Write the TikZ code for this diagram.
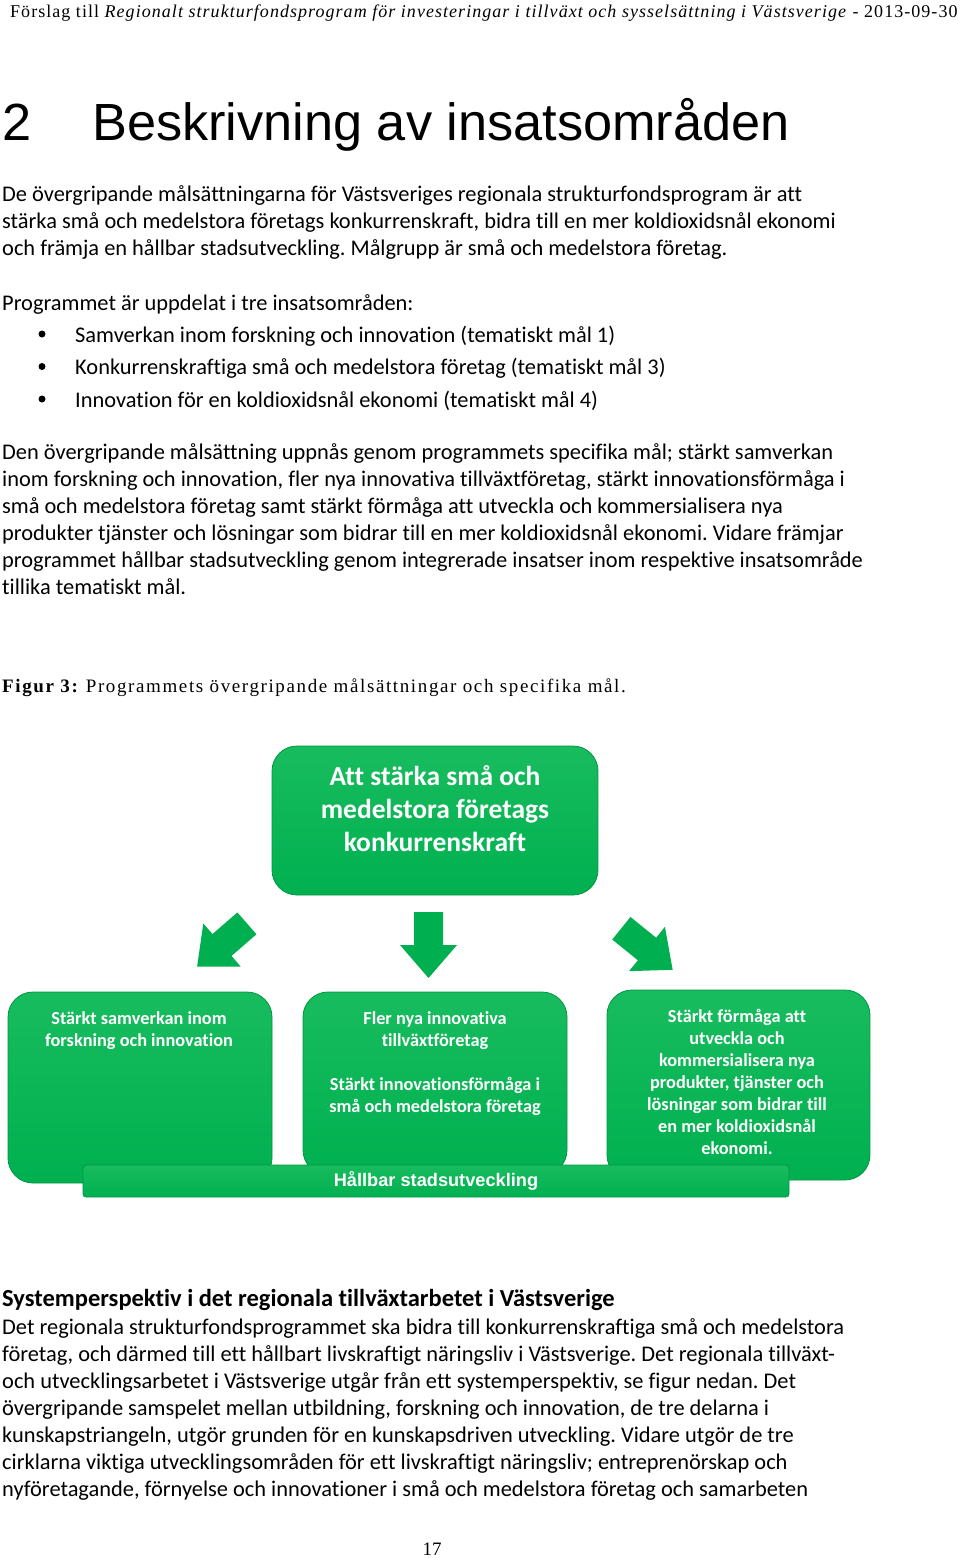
\documentclass[tikz,border=0pt]{standalone}
\usepackage{fontspec}
\setmainfont{Carlito}[Ligatures=NoCommon]
\newfontfamily\arialfont{Liberation Sans}
\newfontfamily\headerfont{Liberation Serif}[LetterSpace=5.8]
\newfontfamily\captionfont{Liberation Serif}[LetterSpace=8.5]
\newfontfamily\timesfont{Liberation Serif}
\usetikzlibrary{positioning}
\definecolor{goalgreen}{RGB}{0,176,80}
\definecolor{goaltop}{RGB}{24,188,94}
\definecolor{goaledge}{RGB}{0,150,68}
\frenchspacing
\begin{document}
\begin{tikzpicture}[x=1pt,y=-1pt,
    bodytext/.style={anchor=base west,inner sep=0,font=\fontsize{22.4}{27}\selectfont},
    dot/.style={circle,fill=black,inner sep=0,minimum size=7},
    gbox/.style={rounded corners=25,top color=goaltop,bottom color=goalgreen,draw=goaledge,line width=0.8},
    boxtext/.style={anchor=north,inner sep=0,align=center,text=white,font=\bfseries\fontsize{18.3}{22}\selectfont},
    blockarrow/.pic={\fill[goalgreen] (-14.5,-33) -- (14.5,-33) -- (14.5,0) -- (28.5,0)
        -- (0,33) -- (-28.5,0) -- (-14.5,0) -- cycle;}]
\useasboundingbox (0,0) rectangle (960,1558);
% header and title
\node[anchor=base west,inner sep=0] (header) at (10,17)
    {\headerfont\fontsize{18}{20}\selectfont Förslag till \textit{Regionalt strukturfondsprogram för investeringar i tillväxt och sysselsättning i Västsverige} - 2013-09-30};
\node[anchor=base west,inner sep=0,font=\arialfont\fontsize{52.3}{60}\selectfont] (secnum) at (2,140) {2};
\node[anchor=base west,inner sep=0,font=\arialfont\fontsize{52.3}{60}\selectfont] (title) at (92,140) {Beskrivning av insatsområden};
% introduction
\foreach \txt [count=\i from 0] in {
    {De övergripande målsättningarna för Västsveriges regionala strukturfondsprogram är att},
    {stärka små och medelstora företags konkurrenskraft, bidra till en mer koldioxidsnål ekonomi},
    {och främja en hållbar stadsutveckling. Målgrupp är små och medelstora företag.}}
  \node[bodytext] (intro\i) at (2,201+27*\i) {\txt};
\node[bodytext] (areas) at (2,310) {Programmet är uppdelat i tre insatsområden:};
\foreach \txt [count=\i from 0] in {
    {Samverkan inom forskning och innovation (tematiskt mål 1)},
    {Konkurrenskraftiga små och medelstora företag (tematiskt mål 3)},
    {Innovation för en koldioxidsnål ekonomi (tematiskt mål 4)}}{
  \node[dot] (dot\i) at (42,334+32.5*\i) {};
  \node[bodytext] (area\i) at (75,342+32.5*\i) {\txt};
}
\foreach \txt [count=\i from 0] in {
    {Den övergripande målsättning uppnås genom programmets specifika mål; stärkt samverkan},
    {inom forskning och innovation, fler nya innovativa tillväxtföretag, stärkt innovationsförmåga i},
    {små och medelstora företag samt stärkt förmåga att utveckla och kommersialisera nya},
    {produkter tjänster och lösningar som bidrar till en mer koldioxidsnål ekonomi. Vidare främjar},
    {programmet hållbar stadsutveckling genom integrerade insatser inom respektive insatsområde},
    {tillika tematiskt mål.}}
  \node[bodytext] (aim\i) at (2,459+27*\i) {\txt};
\node[anchor=base west,inner sep=0] (caption) at (2,692)
    {\captionfont\fontsize{19}{22}\selectfont\textbf{Figur 3:} Programmets övergripande målsättningar och specifika mål.};
% figure
\node[gbox,minimum width=326,minimum height=149] (goal) at (435,820.5) {};
\node[boxtext,font=\bfseries\fontsize{27.5}{33}\selectfont] (goaltext) at (435,765)
    {Att stärka små och\\medelstora företags\\konkurrenskraft};
\pic[rotate=-49] at (222,945) {blockarrow};
\pic at (428.5,945) {blockarrow};
\pic[rotate=51] at (647,949) {blockarrow};
\node[gbox,minimum width=264,minimum height=191] (coop) at (140,1087.5) {};
\node[gbox,minimum width=264,minimum height=183] (growth) at (435,1083.5) {};
\node[gbox,minimum width=263,minimum height=190] (climate) at (738.5,1085) {};
\node[boxtext] (cooptext) at (139,1011) {Stärkt samverkan inom\\forskning och innovation};
\node[boxtext] (growthtext) at (435,1011)
    {Fler nya innovativa\\tillväxtföretag\\[22pt]Stärkt innovationsförmåga i\\små och medelstora företag};
\node[boxtext] (climatetext) at (737,1009)
    {Stärkt förmåga att\\utveckla och\\kommersialisera nya\\produkter, tjänster och\\lösningar som bidrar till\\en mer koldioxidsnål\\ekonomi.};
\node[rounded corners=3,top color=goaltop,bottom color=goalgreen,draw=goaledge,line width=0.8,
    minimum width=706,minimum height=32,text=white,font=\arialfont\bfseries\fontsize{18.2}{22}\selectfont]
    (city) at (436,1181) {Hållbar stadsutveckling};
% system perspective
\node[bodytext,font=\bfseries\fontsize{24.5}{27}\selectfont] (sysheading) at (2,1306)
    {Systemperspektiv i det regionala tillväxtarbetet i Västsverige};
\foreach \txt [count=\i from 0] in {
    {Det regionala strukturfondsprogrammet ska bidra till konkurrenskraftiga små och medelstora},
    {företag, och därmed till ett hållbart livskraftigt näringsliv i Västsverige. Det regionala tillväxt-},
    {och utvecklingsarbetet i Västsverige utgår från ett systemperspektiv, se figur nedan. Det},
    {övergripande samspelet mellan utbildning, forskning och innovation, de tre delarna i},
    {kunskapstriangeln, utgör grunden för en kunskapsdriven utveckling. Vidare utgör de tre},
    {cirklarna viktiga utvecklingsområden för ett livskraftigt näringsliv; entreprenörskap och},
    {nyföretagande, förnyelse och innovationer i små och medelstora företag och samarbeten}}
  \node[bodytext] (sys\i) at (2,1334+27*\i) {\txt};
\node[anchor=base,inner sep=0,font=\timesfont\fontsize{19}{22}\selectfont] (pageno) at (432,1555) {17};
\end{tikzpicture}
\end{document}
